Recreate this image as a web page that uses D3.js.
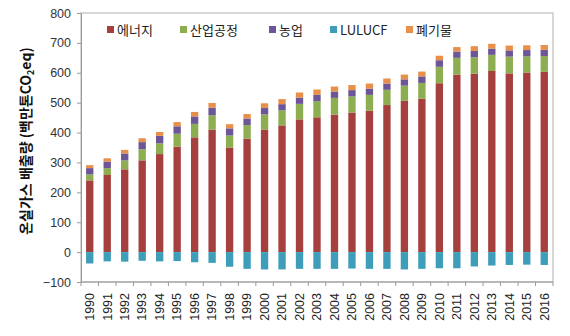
<!DOCTYPE html>
<html><head><meta charset="utf-8">
<script src="https://cdn.jsdelivr.net/npm/d3@7"></script>
<style>body{margin:0;background:#fff}svg{display:block}</style>
</head><body>
<svg id="c" width="570" height="336"></svg>
<script>
const years = ["1990","1991","1992","1993","1994","1995","1996","1997","1998","1999","2000","2001","2002","2003","2004","2005","2006","2007","2008","2009","2010","2011","2012","2013","2014","2015","2016"];
const energy      = [240,258,277,307,328,353,384,410,350,380,410,424,444,451,460,467,473,492,506,513,565,594,597,606,598,601,603];
const industry    = [20,23,30,37,36,43,45,48,40,45,51,50,52,54,56,54,53,51,51,53,55,56,55,54,56,54,53];
const agriculture = [21,22,23,24,25,25,25,25,24,22,21,21,21,21,21,21,21,21,21,22,22,21,21,21,21,21,21];
const lulucf      = [-38,-31,-32,-29,-31,-30,-34,-36,-49,-56,-58,-58,-56,-56,-56,-55,-56,-56,-58,-56,-54,-54,-48,-45,-43,-42,-43];
const waste       = [10,11,12,13,13,14,15,16,14,15,16,17,17,18,17,17,17,17,16,16,15,15,16,16,16,16,16];
const seriesNames = ["에너지","산업공정","농업","LULUCF","폐기물"];
const yTicks = [-100,0,100,200,300,400,500,600,700,800];

const colors = ["#A5403E","#8CAD50","#6C5698","#3E9EBA","#E8904A"];
const keys = ["energy","industry","agriculture","lulucf","waste"];
const rows = years.map((y,i)=>({year:y,energy:energy[i],industry:industry[i],agriculture:agriculture[i],lulucf:lulucf[i],waste:waste[i]}));

const svg = d3.select("#c");
const L=81,R=553,T=13,B=282;
const x = d3.scaleBand().domain(years).range([L,R]).paddingInner(0.58).paddingOuter(0.29);
const y = d3.scaleLinear().domain([-100,800]).range([B,T]);
const step = x.step(), bw = x.bandwidth();

// frame
svg.append("rect").attr("x",L).attr("y",T).attr("width",R-L).attr("height",B-T)
  .attr("fill","none").attr("stroke","#BDBDBD").attr("stroke-width",1.2);

const stack = d3.stack().keys(keys).offset(d3.stackOffsetDiverging)(rows);
svg.append("g").selectAll("g").data(stack).join("g")
  .attr("fill",(d,i)=>colors[i])
  .selectAll("rect").data(d=>d).join("rect")
  .attr("x",d=>x(d.data.year)).attr("width",bw)
  .attr("y",d=>y(Math.max(d[0],d[1]))).attr("height",d=>Math.abs(y(d[0])-y(d[1])));

// y axis
const ya = svg.append("g").attr("transform",`translate(${L},0)`)
  .call(d3.axisLeft(y).tickValues(yTicks).tickSize(4).tickSizeOuter(0).tickPadding(6));
ya.select(".domain").attr("stroke","#9A9A9A");
ya.selectAll(".tick line").attr("stroke","#9A9A9A");
ya.selectAll("text").attr("font-family","Liberation Sans, Arial, sans-serif").attr("font-size",12.5).attr("fill","#333");

// x axis
const xa = svg.append("g").attr("transform",`translate(0,${B})`);
xa.append("line").attr("x1",L).attr("x2",R).attr("stroke","#9A9A9A");
xa.selectAll("line.t").data(d3.range(years.length+1)).join("line").attr("class","t")
  .attr("x1",i=>L+i*step).attr("x2",i=>L+i*step).attr("y1",0).attr("y2",4).attr("stroke","#9A9A9A");
xa.selectAll("text").data(years).join("text")
  .attr("transform",d=>`translate(${x(d)+bw/2+4.3},11) rotate(-90)`)
  .attr("text-anchor","end")
  .attr("font-family","Liberation Sans, Arial, sans-serif").attr("font-size",12.5).attr("fill","#222")
  .text(d=>d);

// y label
const yl = svg.append("text").attr("transform","translate(31,141) rotate(-90)")
  .attr("text-anchor","middle").attr("font-family","Noto Sans CJK KR, sans-serif")
  .attr("font-weight","bold").attr("font-size",14).attr("fill","#111");
yl.append("tspan").text("온실가스 배출량 (백만톤CO");
yl.append("tspan").attr("font-size",9).attr("dy",3).text("2");
yl.append("tspan").attr("dy",-3).text("eq)");

// legend
const lx = [107,180,269,330,406];
const lg = svg.append("g").selectAll("g").data(seriesNames).join("g")
  .attr("transform",(d,i)=>`translate(${lx[i]},30)`);
lg.append("rect").attr("x",0).attr("y",-4).attr("width",7).attr("height",7).attr("fill",(d,i)=>colors[i]);
lg.append("text").attr("x",10).attr("y",5).attr("font-family","Noto Sans CJK KR, sans-serif")
  .attr("font-size",13).attr("fill","#222").text(d=>d);
</script>
</body></html>
